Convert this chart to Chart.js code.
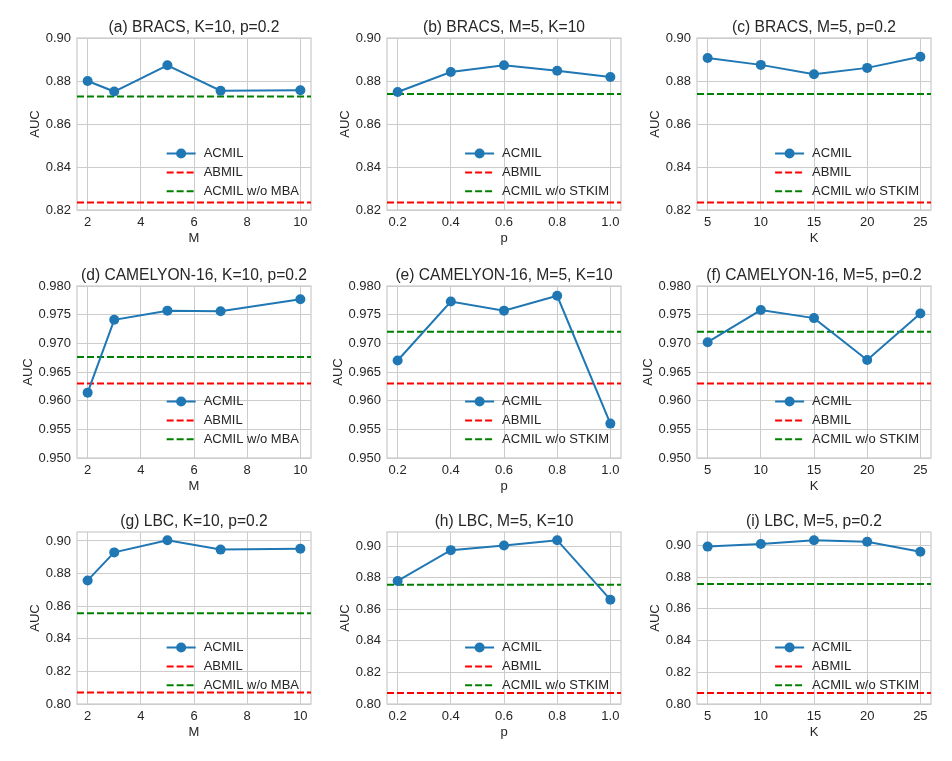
<!DOCTYPE html>
<html>
<head>
<meta charset="utf-8">
<script src="https://cdn.jsdelivr.net/npm/chart.js@4.4.1/dist/chart.umd.min.js"></script>
<style>
  body { margin: 0; background: #fff; }
  #wrap { position: relative; width: 952px; height: 761px; }
  #wrap canvas { position: absolute; }
</style>
</head>
<body>
<div id="wrap"></div>
<script>
// x values for each sweep
const mVals = [2, 3, 5, 7, 10];
const pVals = [0.2, 0.4, 0.6, 0.8, 1.0];
const kVals = [5, 10, 15, 20, 25];

// ACMIL AUC per panel
const bracsM = [0.8800, 0.8751, 0.8873, 0.8755, 0.8757];
const bracsP = [0.8749, 0.8842, 0.8873, 0.8848, 0.8819];
const bracsK = [0.8907, 0.8875, 0.8831, 0.8861, 0.8913];
const camM = [0.9614, 0.9741, 0.9757, 0.9756, 0.9777];
const camP = [0.9670, 0.9773, 0.9757, 0.9783, 0.9560];
const camK = [0.9702, 0.9758, 0.9744, 0.9671, 0.9752];
const lbcM = [0.8758, 0.8930, 0.9004, 0.8947, 0.8953];
const lbcP = [0.8780, 0.8975, 0.9004, 0.9038, 0.8661];
const lbcK = [0.8992, 0.9008, 0.9032, 0.9023, 0.8960];

// baselines (BRACS, CAMELYON-16, LBC)
const abmil = [0.8235, 0.9630, 0.8070];
const woMBA = [0.8728, 0.9676, 0.8557];
const woSTKIM = [0.8739, 0.9720, 0.8756];

// ticks
const xTicksM = [2, 4, 6, 8, 10];
const xTicksP = [0.2, 0.4, 0.6, 0.8, 1.0];
const xTicksK = [5, 10, 15, 20, 25];
const yTicksBracs = [0.82, 0.84, 0.86, 0.88, 0.90];
const yTicksCam = [0.950, 0.955, 0.960, 0.965, 0.970, 0.975, 0.980];
const yTicksLbc = [0.80, 0.82, 0.84, 0.86, 0.88, 0.90];

const titles = [
  '(a) BRACS, K=10, p=0.2', '(b) BRACS, M=5, K=10', '(c) BRACS, M=5, p=0.2',
  '(d) CAMELYON-16, K=10, p=0.2', '(e) CAMELYON-16, M=5, K=10', '(f) CAMELYON-16, M=5, p=0.2',
  '(g) LBC, K=10, p=0.2', '(h) LBC, M=5, K=10', '(i) LBC, M=5, p=0.2'
];

const FONT = '"Liberation Sans", Arial, sans-serif';
const TXT = '#262626';
const GRID = '#cccccc';

// sweep definitions (per column)
const sweeps = [
  { x: mVals, ticks: xTicksM, lim: [1.6, 10.4], dec: 0, label: 'M', ablation: 'ACMIL w/o MBA', base: woMBA },
  { x: pVals, ticks: xTicksP, lim: [0.16, 1.04], dec: 1, label: 'p', ablation: 'ACMIL w/o STKIM', base: woSTKIM },
  { x: kVals, ticks: xTicksK, lim: [4, 26], dec: 0, label: 'K', ablation: 'ACMIL w/o STKIM', base: woSTKIM }
];
// dataset rows
const rows = [
  { series: [bracsM, bracsP, bracsK], ticks: yTicksBracs, lims: [[0.82, 0.90], [0.82, 0.90], [0.82, 0.90]], dec: 2, top: 0, pad: 38, titleX: 28 },
  { series: [camM, camP, camK], ticks: yTicksCam, lims: [[0.95, 0.98], [0.95, 0.98], [0.95, 0.98]], dec: 3, top: 250, pad: 36, titleX: 21 },
  { series: [lbcM, lbcP, lbcK], ticks: yTicksLbc, lims: [[0.80, 0.9055], [0.80, 0.9090], [0.80, 0.9084]], dec: 2, top: 500, pad: 32, titleX: 28 }
];
const cols = [{ left: 0, width: 320 }, { left: 310, width: 320 }, { left: 620, width: 332 }];
const PLOT_W = 234, PLOT_H = 172, YAXIS_W = 77, XAXIS_H = 39;

const framePlugin = {
  id: 'frame',
  beforeDatasetsDraw(chart) {
    const { ctx, chartArea: a } = chart;
    ctx.save();
    ctx.strokeStyle = GRID;
    ctx.lineWidth = 1.25;
    ctx.strokeRect(a.left, a.top, a.right - a.left, a.bottom - a.top);
    ctx.restore();
  }
};

const titlePlugin = {
  id: 'panelTitle',
  afterDraw(chart, args, opts) {
    const { ctx, chartArea: a } = chart;
    ctx.save();
    ctx.font = '15.6px ' + FONT;
    ctx.fillStyle = TXT;
    ctx.textAlign = 'center';
    ctx.textBaseline = 'alphabetic';
    ctx.fillText(opts.text, (a.left + a.right) / 2, a.top - 6);
    ctx.restore();
  }
};

const legendPlugin = {
  id: 'innerLegend',
  afterDraw(chart) {
    const { ctx, chartArea: a } = chart;
    const sets = chart.data.datasets;
    ctx.save();
    ctx.font = '13px ' + FONT;
    const textW = Math.max(...sets.map(d => ctx.measureText(d.label).width));
    const handle = 29, gap = 8;
    const x0 = a.right - 12 - textW - gap - handle;
    sets.forEach((d, i) => {
      const y = a.bottom - 56.5 + i * 18.9;
      ctx.strokeStyle = d.borderColor;
      ctx.lineWidth = 2;
      ctx.setLineDash(d.borderDash || []);
      ctx.beginPath();
      ctx.moveTo(x0, y);
      ctx.lineTo(x0 + handle, y);
      ctx.stroke();
      ctx.setLineDash([]);
      if (d.pointRadius > 0) {
        ctx.fillStyle = d.borderColor;
        ctx.beginPath();
        ctx.arc(x0 + handle / 2, y, d.pointRadius, 0, Math.PI * 2);
        ctx.fill();
      }
      ctx.fillStyle = TXT;
      ctx.textAlign = 'left';
      ctx.textBaseline = 'middle';
      ctx.fillText(d.label, x0 + handle + gap, y);
    });
    ctx.restore();
  }
};

const wrap = document.getElementById('wrap');

rows.forEach((row, r) => {
  sweeps.forEach((sw, c) => {
    const col = cols[c];
    const h = row.pad + PLOT_H + XAXIS_H;
    const canvas = document.createElement('canvas');
    canvas.width = col.width;
    canvas.height = h;
    canvas.style.left = col.left + 'px';
    canvas.style.top = row.top + 'px';
    wrap.appendChild(canvas);

    const yLim = row.lims[c];
    new Chart(canvas.getContext('2d'), {
      type: 'line',
      data: {
        datasets: [
          {
            label: 'ACMIL',
            data: sw.x.map((x, i) => ({ x: x, y: row.series[c][i] })),
            borderColor: '#1f77b4',
            backgroundColor: '#1f77b4',
            borderWidth: 2,
            pointRadius: 5,
            pointHoverRadius: 5,
            pointBorderWidth: 0,
            tension: 0
          },
          {
            label: 'ABMIL',
            data: sw.lim.map(x => ({ x: x, y: abmil[r] })),
            borderColor: '#ff0000',
            borderWidth: 2,
            borderDash: [7, 3],
            pointRadius: 0
          },
          {
            label: sw.ablation,
            data: sw.lim.map(x => ({ x: x, y: sw.base[r] })),
            borderColor: '#008000',
            borderWidth: 2,
            borderDash: [7, 3],
            pointRadius: 0
          }
        ]
      },
      options: {
        responsive: false,
        animation: false,
        devicePixelRatio: 1,
        layout: { padding: { top: row.pad, right: col.width - YAXIS_W - PLOT_W, bottom: 0, left: 0 } },
        plugins: {
          legend: { display: false },
          tooltip: { enabled: false },
          panelTitle: { text: titles[r * 3 + c] }
        },
        scales: {
          x: {
            type: 'linear',
            min: sw.lim[0],
            max: sw.lim[1],
            afterBuildTicks: axis => { axis.ticks = sw.ticks.map(v => ({ value: v })); },
            afterFit: axis => { axis.height = XAXIS_H; },
            grid: { color: GRID, lineWidth: 1, drawTicks: false },
            border: { display: false },
            ticks: {
              color: TXT, padding: 4.5, maxRotation: 0,
              font: { family: FONT, size: 13 },
              callback: v => v.toFixed(sw.dec)
            },
            title: {
              display: true, text: sw.label, color: TXT,
              font: { family: FONT, size: 13 }, padding: { top: 0, bottom: 3 }
            }
          },
          y: {
            type: 'linear',
            min: yLim[0],
            max: yLim[1],
            afterBuildTicks: axis => { axis.ticks = row.ticks.map(v => ({ value: v })); },
            afterFit: axis => { axis.width = YAXIS_W; },
            grid: { color: GRID, lineWidth: 1, drawTicks: false },
            border: { display: false },
            ticks: {
              color: TXT, padding: 6,
              font: { family: FONT, size: 13 },
              callback: v => v.toFixed(row.dec)
            },
            title: {
              display: true, text: 'AUC', color: TXT,
              font: { family: FONT, size: 13 }, padding: { top: row.titleX, bottom: 0 }
            }
          }
        }
      },
      plugins: [framePlugin, titlePlugin, legendPlugin]
    });
  });
});
</script>
</body>
</html>
